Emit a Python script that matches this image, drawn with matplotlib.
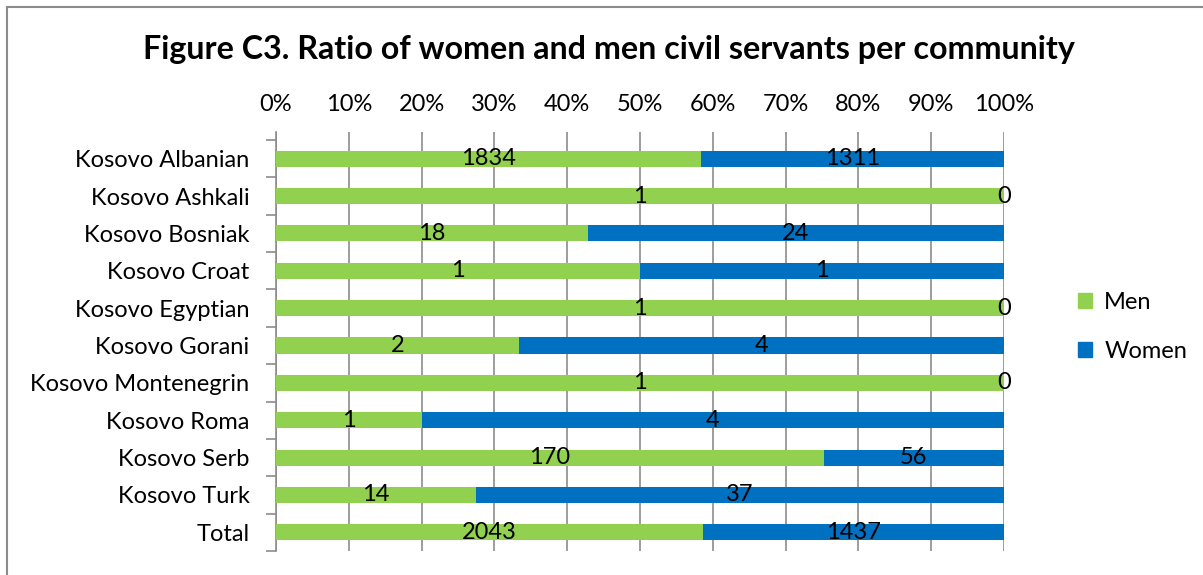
import matplotlib
matplotlib.use("Agg")
import matplotlib.pyplot as plt
from matplotlib.ticker import FuncFormatter, MultipleLocator
from matplotlib.lines import Line2D
from matplotlib.patches import Patch

categories = ["Kosovo Albanian", "Kosovo Ashkali", "Kosovo Bosniak", "Kosovo Croat",
              "Kosovo Egyptian", "Kosovo Gorani", "Kosovo Montenegrin", "Kosovo Roma",
              "Kosovo Serb", "Kosovo Turk", "Total"]
men = [1834, 1, 18, 1, 1, 2, 1, 1, 170, 14, 2043]
women = [1311, 0, 24, 1, 0, 4, 0, 4, 56, 37, 1437]
title = "Figure C3. Ratio of women and men civil servants per community"

green = "#92D050"
blue = "#0070C0"
plt.rcParams['font.family'] = ['Lato', 'DejaVu Sans']
fs = 17

fig = plt.figure(figsize=(12.03, 5.75), dpi=100)
ax = fig.add_axes([276/1203, 1-551/575, (1004-276)/1203, (551-132)/575])

n = len(categories)
ys = list(range(n))
men_pct = [m / (m + w) for m, w in zip(men, women)]
women_pct = [w / (m + w) for m, w in zip(men, women)]

h = 0.43
ax.barh(ys, men_pct, height=h, color=green, zorder=3, label="Men")
ax.barh(ys, women_pct, left=men_pct, height=h, color=blue, zorder=3, label="Women")

for y, mp, wp, m, w in zip(ys, men_pct, women_pct, men, women):
    ax.text(mp / 2, y, str(m), ha="center", va="center", fontsize=fs, color="black", zorder=4)
    ax.text(mp + wp / 2, y, str(w), ha="center", va="center", fontsize=fs, color="black", zorder=4)

ax.set_xlim(0, 1)
ax.set_ylim(n - 0.5, -0.5 - 8/37.4)
ax.xaxis.set_major_locator(MultipleLocator(0.1))
ax.xaxis.set_major_formatter(FuncFormatter(lambda v, p: f"{int(round(v*100))}%"))
ax.xaxis.tick_top()
ax.tick_params(axis="x", length=0, labelsize=fs, pad=12)
ax.grid(axis="x", color="#8c8c8c", linewidth=1.2, zorder=0)
for s in ["top", "right", "bottom"]:
    ax.spines[s].set_visible(False)
ax.spines["left"].set_color("#8c8c8c")
ax.spines["left"].set_linewidth(1.2)
ax.set_yticks(ys)
ax.set_yticklabels(categories, fontsize=fs)
ax.tick_params(axis="y", length=0, pad=19)
ax.set_yticks([i - 0.5 for i in range(n + 1)], minor=True)
ax.tick_params(axis="y", which="minor", length=7, color="#8c8c8c", width=1.2)

fig.text(609/1203, 1-50/575, title, ha="center", va="center", fontsize=23.2, fontweight="bold")

handles = [Patch(color=green, label="Men"), Patch(color=blue, label="Women")]
fig.legend(handles=handles, loc="center left", bbox_to_anchor=(1057/1203, 1-327/575),
           frameon=False, fontsize=fs, handlelength=0.6, handleheight=0.6,
           labelspacing=1.2, handletextpad=0.5)

fig.add_artist(Line2D([7/1203, 7/1203], [0, 1-7/575], color="#8c8c8c", linewidth=1.5))
fig.add_artist(Line2D([7/1203, 1], [1-7/575, 1-7/575], color="#8c8c8c", linewidth=1.5))

fig.savefig("out.png", dpi=100)
